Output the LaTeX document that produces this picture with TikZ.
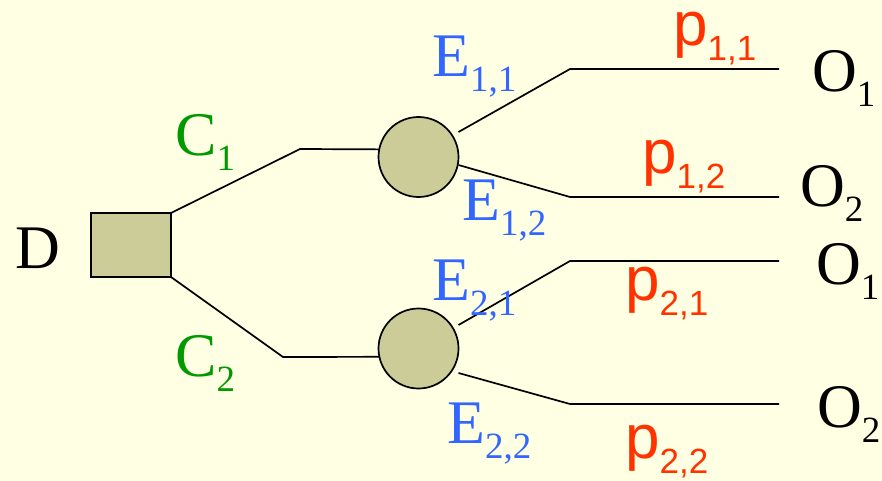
\documentclass[tikz,border=0pt]{standalone}
\usepackage{fontspec}
\setmainfont{Liberation Serif}
\newfontfamily\probfont{Liberation Sans}
\usepackage{tikz}
\usetikzlibrary{calc}
\usepackage{xcolor}
\definecolor{chancegreen}{RGB}{0,153,0}
\definecolor{eventblue}{RGB}{51,102,255}
\definecolor{probred}{RGB}{255,51,0}
\definecolor{paperyellow}{RGB}{255,255,227}
\definecolor{nodekhaki}{RGB}{204,204,153}
\newcommand{\lowidx}[1]{\raisebox{-15pt}{\fontsize{37}{37}\selectfont #1}}
\newcommand{\plowidx}[1]{\raisebox{-15pt}{\fontsize{35}{35}\selectfont #1}}

\begin{document}
\begin{tikzpicture}[
    x=1pt, y=-1pt,
    decbox/.style={rectangle, draw=black, line width=1.7pt, fill=nodekhaki,
                   minimum width=80pt, minimum height=64pt, inner sep=0pt, outer sep=0pt},
    chance/.style={circle, draw=black, line width=1.7pt, fill=nodekhaki,
                   minimum size=80pt, inner sep=0pt, outer sep=0pt},
    branch/.style={draw=black, line width=1.7pt},
    lab/.style={anchor=base west, inner sep=0pt, font=\fontsize{62}{62}\selectfont},
    choice/.style={lab, text=chancegreen},
    event/.style={lab, text=eventblue},
    prob/.style={lab, text=probred, font=\fontsize{62}{62}\selectfont\probfont},
]
    \fill[paperyellow] (0,0) rectangle (882,481);
    \useasboundingbox (0,0) rectangle (882,481);

    % decision and chance nodes
    \node[decbox] (dec) at (131,245) {};
    \node[chance] (c1) at (418.5,157) {};
    \node[chance] (c2) at (418.5,348.5) {};

    % bends and free ends
    \coordinate (k1) at (300,149);
    \coordinate (k2) at (283,357);
    \coordinate (s11) at ($(c1.east)+(0,-25)$);
    \coordinate (s12) at ($(c1.east)+(0,8)$);
    \coordinate (s21) at ($(c2.east)+(0,-23.5)$);
    \coordinate (s22) at ($(c2.east)+(0,24.5)$);
    \coordinate (k11) at (570,69);
    \coordinate (k12) at (570,197);
    \coordinate (k21) at (570,261);
    \coordinate (k22) at (570,404);
    \coordinate (e11) at (779,69);
    \coordinate (e12) at (779,197);
    \coordinate (e21) at (779,261);
    \coordinate (e22) at (779,404);

    \draw[branch] (dec.north east) -- (k1) -- (c1.169);
    \draw[branch] (dec.south east) -- (k2) -- (c2.192);
    \draw[branch] (s11) -- (k11) -- (e11);
    \draw[branch] (s12) -- (k12) -- (e12);
    \draw[branch] (s21) -- (k21) -- (e21);
    \draw[branch] (s22) -- (k22) -- (e22);

    % labels
    \node[lab] (d) at (15,268) {D};
    \node[choice] (lc1) at (175,156) {C\lowidx{1}};
    \node[choice] (lc2) at (175,376) {C\lowidx{2}};
    \node[event] (le11) at (432,77) {E\lowidx{1,1}};
    \node[event] (le12) at (462,220) {E\lowidx{1,2}};
    \node[event] (le21) at (432,300) {E\lowidx{2,1}};
    \node[event] (le22) at (447,443) {E\lowidx{2,2}};
    \node[prob] (p11) at (673,46) {p\plowidx{1,1}};
    \node[prob] (p12) at (642,173) {p\plowidx{1,2}};
    \node[prob] (p21) at (625,300) {p\plowidx{2,1}};
    \node[prob] (p22) at (625,458) {p\plowidx{2,2}};
    \node[lab] (o11) at (812,92) {O\lowidx{1}};
    \node[lab] (o12) at (800,206) {O\lowidx{2}};
    \node[lab] (o21) at (816,284) {O\lowidx{1}};
    \node[lab] (o22) at (817,427) {O\lowidx{2}};
\end{tikzpicture}
\end{document}
